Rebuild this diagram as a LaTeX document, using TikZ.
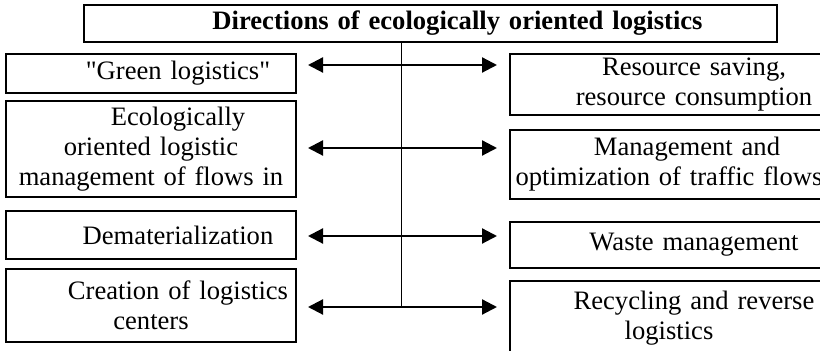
\documentclass[tikz,border=0pt]{standalone}
\usepackage{fontspec}
\setmainfont{Liberation Serif}
\usepackage{xcolor}
\usepackage{tikz}
\usetikzlibrary{arrows.meta, positioning, calc}
\definecolor{inkblack}{RGB}{0, 0, 0}
\newcommand{\dirfont}{\fontsize{13.3pt}{15pt}\selectfont}
\tikzset{
  dirbox/.style={rectangle, draw=inkblack, line width=1pt, text width=#1, align=center,
              inner xsep=2pt, inner ysep=0pt, font=\dirfont, anchor=north west},
  dirbox/.default=141pt,
  headbox/.style={rectangle, draw=inkblack, line width=1pt, text width=340pt, align=center,
              inner xsep=3.25pt, inner ysep=0pt, font=\dirfont\bfseries, anchor=north west},
  arrow/.style={-{Triangle[length=7.5pt, width=7.5pt]}, line width=1.1pt, color=inkblack},
  trunk/.style={line width=0.7pt, color=inkblack},
}

\begin{document}
\begin{tikzpicture}[x=0.5pt, y=-0.5pt]
  \useasboundingbox (0,0) rectangle (820,351);
  \clip (0,0) rectangle (820,351);

  \node[headbox, minimum height=18.5pt] (head) at (83,4)
        {\hspace*{27pt}Directions of ecologically oriented logistics};

  \node[dirbox, minimum height=19.5pt] (green) at (5,53)
        {\hspace*{27pt}\textquotedbl Green logistics\textquotedbl};
  \node[dirbox, minimum height=48pt] (ecoflow) at (5,100)
        {\hspace*{27pt}Ecologically\\oriented logistic\\management of flows in};
  \node[dirbox, minimum height=24pt] (demat) at (5,210)
        {\hspace*{27pt}Dematerialization};
  \node[dirbox, minimum height=36.5pt] (centers) at (5,268)
        {\hspace*{27pt}Creation of logistics\\centers};

  \node[dirbox=155pt, minimum height=30.5pt] (saving) at (509,53)
        {\hspace*{25pt}Resource saving,\\\hspace*{25pt}resource consumption};
  \node[dirbox=155pt, minimum height=34.5pt] (traffic) at (509,129)
        {\hspace*{18pt}Management and\\optimization of traffic flows\hspace*{5pt}};
  \node[dirbox=155pt, minimum height=23pt] (waste) at (509,221)
        {\hspace*{25pt}Waste management};
  \node[dirbox=155pt, minimum height=37pt] (reverse) at (509,280)
        {\hspace*{25pt}Recycling and reverse\\logistics\hspace*{12pt}};

  \coordinate (t1) at (401.5,65);
  \coordinate (t2) at (401.5,148);
  \coordinate (t3) at (401.5,236);
  \coordinate (t4) at (401.5,307);

  \draw[trunk] (head.south -| t1) -- (t4);
  \draw[arrow, shorten >=5.5pt] (t1) -- (t1 -| green.east);
  \draw[arrow, shorten >=5.5pt] (t2) -- (t2 -| ecoflow.east);
  \draw[arrow, shorten >=5.5pt] (t3) -- (t3 -| demat.east);
  \draw[arrow, shorten >=5.5pt] (t4) -- (t4 -| centers.east);
  \draw[arrow, shorten >=6pt] (t1) -- (t1 -| saving.west);
  \draw[arrow, shorten >=6pt] (t2) -- (t2 -| traffic.west);
  \draw[arrow, shorten >=6pt] (t3) -- (t3 -| waste.west);
  \draw[arrow, shorten >=6pt] (t4) -- (t4 -| reverse.west);
\end{tikzpicture}
\end{document}
